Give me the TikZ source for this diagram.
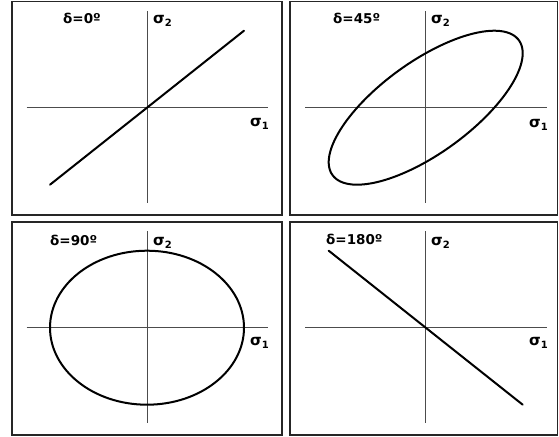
\documentclass[tikz,border=0pt]{standalone}
\usepackage{fontspec}
\setmainfont{DejaVu Sans}
\begin{document}
\begin{tikzpicture}[x=1pt,y=-1pt,
  frame/.style={draw=black!85,line width=1.4pt},
  axis/.style={draw=black!70,line width=1pt},
  curve/.style={draw=black,line width=2pt},
  lbl/.style={inner sep=0pt,anchor=west,font=\fontsize{13.5}{15}\selectfont\bfseries},
  slbl/.style={inner sep=0pt,anchor=west,font=\fontsize{15}{16}\selectfont\bfseries}]
\useasboundingbox (0,0) rectangle (559,436);
% frames
\draw[frame] (12,1.5) rectangle (282,215);
\draw[frame] (290,1.5) rectangle (557.5,215);
\draw[frame] (12,222) rectangle (282,435);
\draw[frame] (290,222) rectangle (557.5,435);
% axes
\foreach \cx/\cy in {147/107.7, 425.7/107.7, 147/327.7, 425.7/327.7}{
  \draw[axis] (\cx-120.5,\cy) -- (\cx+121,\cy);
  \draw[axis] (\cx,\cy-96.5) -- (\cx,\cy+95);
}
% panel 1: delta = 0
\coordinate (a1) at (50,184.7);
\coordinate (b1) at (244,30.7);
\draw[curve,line cap=round] (a1) -- (b1);
% panel 2: delta = 45
\draw[curve] plot[domain=0:360,samples=120,smooth cycle] ({425.7+97*cos(\x)},{107.7-77*cos(\x-45)});
% panel 3: delta = 90
\draw[curve] (147,327.7) ellipse [x radius=97, y radius=77];
% panel 4: delta = 180
\coordinate (a4) at (328.7,250.7);
\coordinate (b4) at (522.7,404.7);
\draw[curve,line cap=round] (a4) -- (b4);
% labels
\newcommand{\sgm}[1]{σ\raisebox{-3.5pt}{\fontsize{10}{10}\selectfont #1}}
\node[lbl] (d1) at (63,18) {δ=0º};
\node[lbl] (d2) at (333,18) {δ=45º};
\node[lbl] (d3) at (50,240) {δ=90º};
\node[lbl] (d4) at (326,239) {δ=180º};
\node[slbl] (s21) at (153,21) {\sgm{2}};
\node[slbl] (s22) at (431,21) {\sgm{2}};
\node[slbl] (s23) at (153,243) {\sgm{2}};
\node[slbl] (s24) at (431,243) {\sgm{2}};
\node[slbl] (s11) at (250,124) {\sgm{1}};
\node[slbl] (s12) at (529,125) {\sgm{1}};
\node[slbl] (s13) at (250,343) {\sgm{1}};
\node[slbl] (s14) at (529,343) {\sgm{1}};
\end{tikzpicture}
\end{document}
